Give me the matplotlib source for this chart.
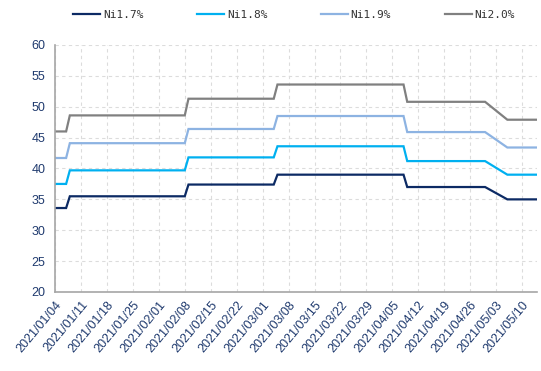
import matplotlib
matplotlib.use("Agg")
import matplotlib.pyplot as plt
import matplotlib.dates as mdates
import pandas as pd

# Vertex dates of the price path (levels change between consecutive trading days)
dates = pd.to_datetime([
    "2021-01-04", "2021-01-07", "2021-01-08", "2021-02-08", "2021-02-09",
    "2021-03-04", "2021-03-05", "2021-04-08", "2021-04-09", "2021-04-30",
    "2021-05-06", "2021-05-14",
])

ni17 = [33.6, 33.6, 35.5, 35.5, 37.4, 37.4, 39.0, 39.0, 37.0, 37.0, 35.0, 35.0]
ni18 = [37.5, 37.5, 39.7, 39.7, 41.8, 41.8, 43.6, 43.6, 41.2, 41.2, 39.0, 39.0]
ni19 = [41.7, 41.7, 44.1, 44.1, 46.4, 46.4, 48.5, 48.5, 45.9, 45.9, 43.4, 43.4]
ni20 = [46.0, 46.0, 48.6, 48.6, 51.3, 51.3, 53.6, 53.6, 50.8, 50.8, 47.9, 47.9]

series_names = ["Ni1.7%", "Ni1.8%", "Ni1.9%", "Ni2.0%"]
series_colors = ["#0c2a64", "#00b0f0", "#8db3e2", "#808080"]

tick_dates = pd.date_range("2021-01-04", "2021-05-10", freq="7D")
y_ticks = [20, 25, 30, 35, 40, 45, 50, 55, 60]

W, H = 541, 371
fig = plt.figure(figsize=(W / 100, H / 100), dpi=100)
ax = fig.add_axes([55 / W, 1 - 292 / H, (537 - 55) / W, (292 - 45) / H])

for vals, name, col in zip([ni17, ni18, ni19, ni20], series_names, series_colors):
    ax.plot(dates, vals, color=col, lw=1.6, label=name, solid_joinstyle="miter")

ax.set_xlim(pd.Timestamp("2021-01-04"), pd.Timestamp("2021-05-14"))
ax.set_ylim(20, 60)
ax.set_yticks(y_ticks)
ax.set_xticks(tick_dates)
ax.xaxis.set_major_formatter(mdates.DateFormatter("%Y/%m/%d"))

label_color = "#1f3a6e"
ax.tick_params(axis="both", length=0, labelsize=9, labelcolor=label_color,
               labelfontfamily="Liberation Sans")
ax.tick_params(axis="y", pad=7)
ax.tick_params(axis="x", pad=5, labelsize=9)
for lbl in ax.get_xticklabels():
    lbl.set_rotation(50)
    lbl.set_ha("right")
    lbl.set_va("top")
    lbl.set_rotation_mode("anchor")

ax.grid(True, color="#dcdcdc", linestyle=(0, (3, 3)), linewidth=0.8)
ax.set_axisbelow(True)
for side in ["top", "right"]:
    ax.spines[side].set_visible(False)
for side in ["left", "bottom"]:
    ax.spines[side].set_color("#a6a6a6")
    ax.spines[side].set_linewidth(1.2)

fig.legend(loc="center left", bbox_to_anchor=(73 / W, 1 - 15 / H), ncol=4,
           frameon=False, borderpad=0, borderaxespad=0,
           handlelength=2.45, handletextpad=0.25, columnspacing=4.8,
           prop={"family": "DejaVu Sans Mono", "size": 8}, labelcolor="#333333")

fig.savefig("out.png", dpi=100)
